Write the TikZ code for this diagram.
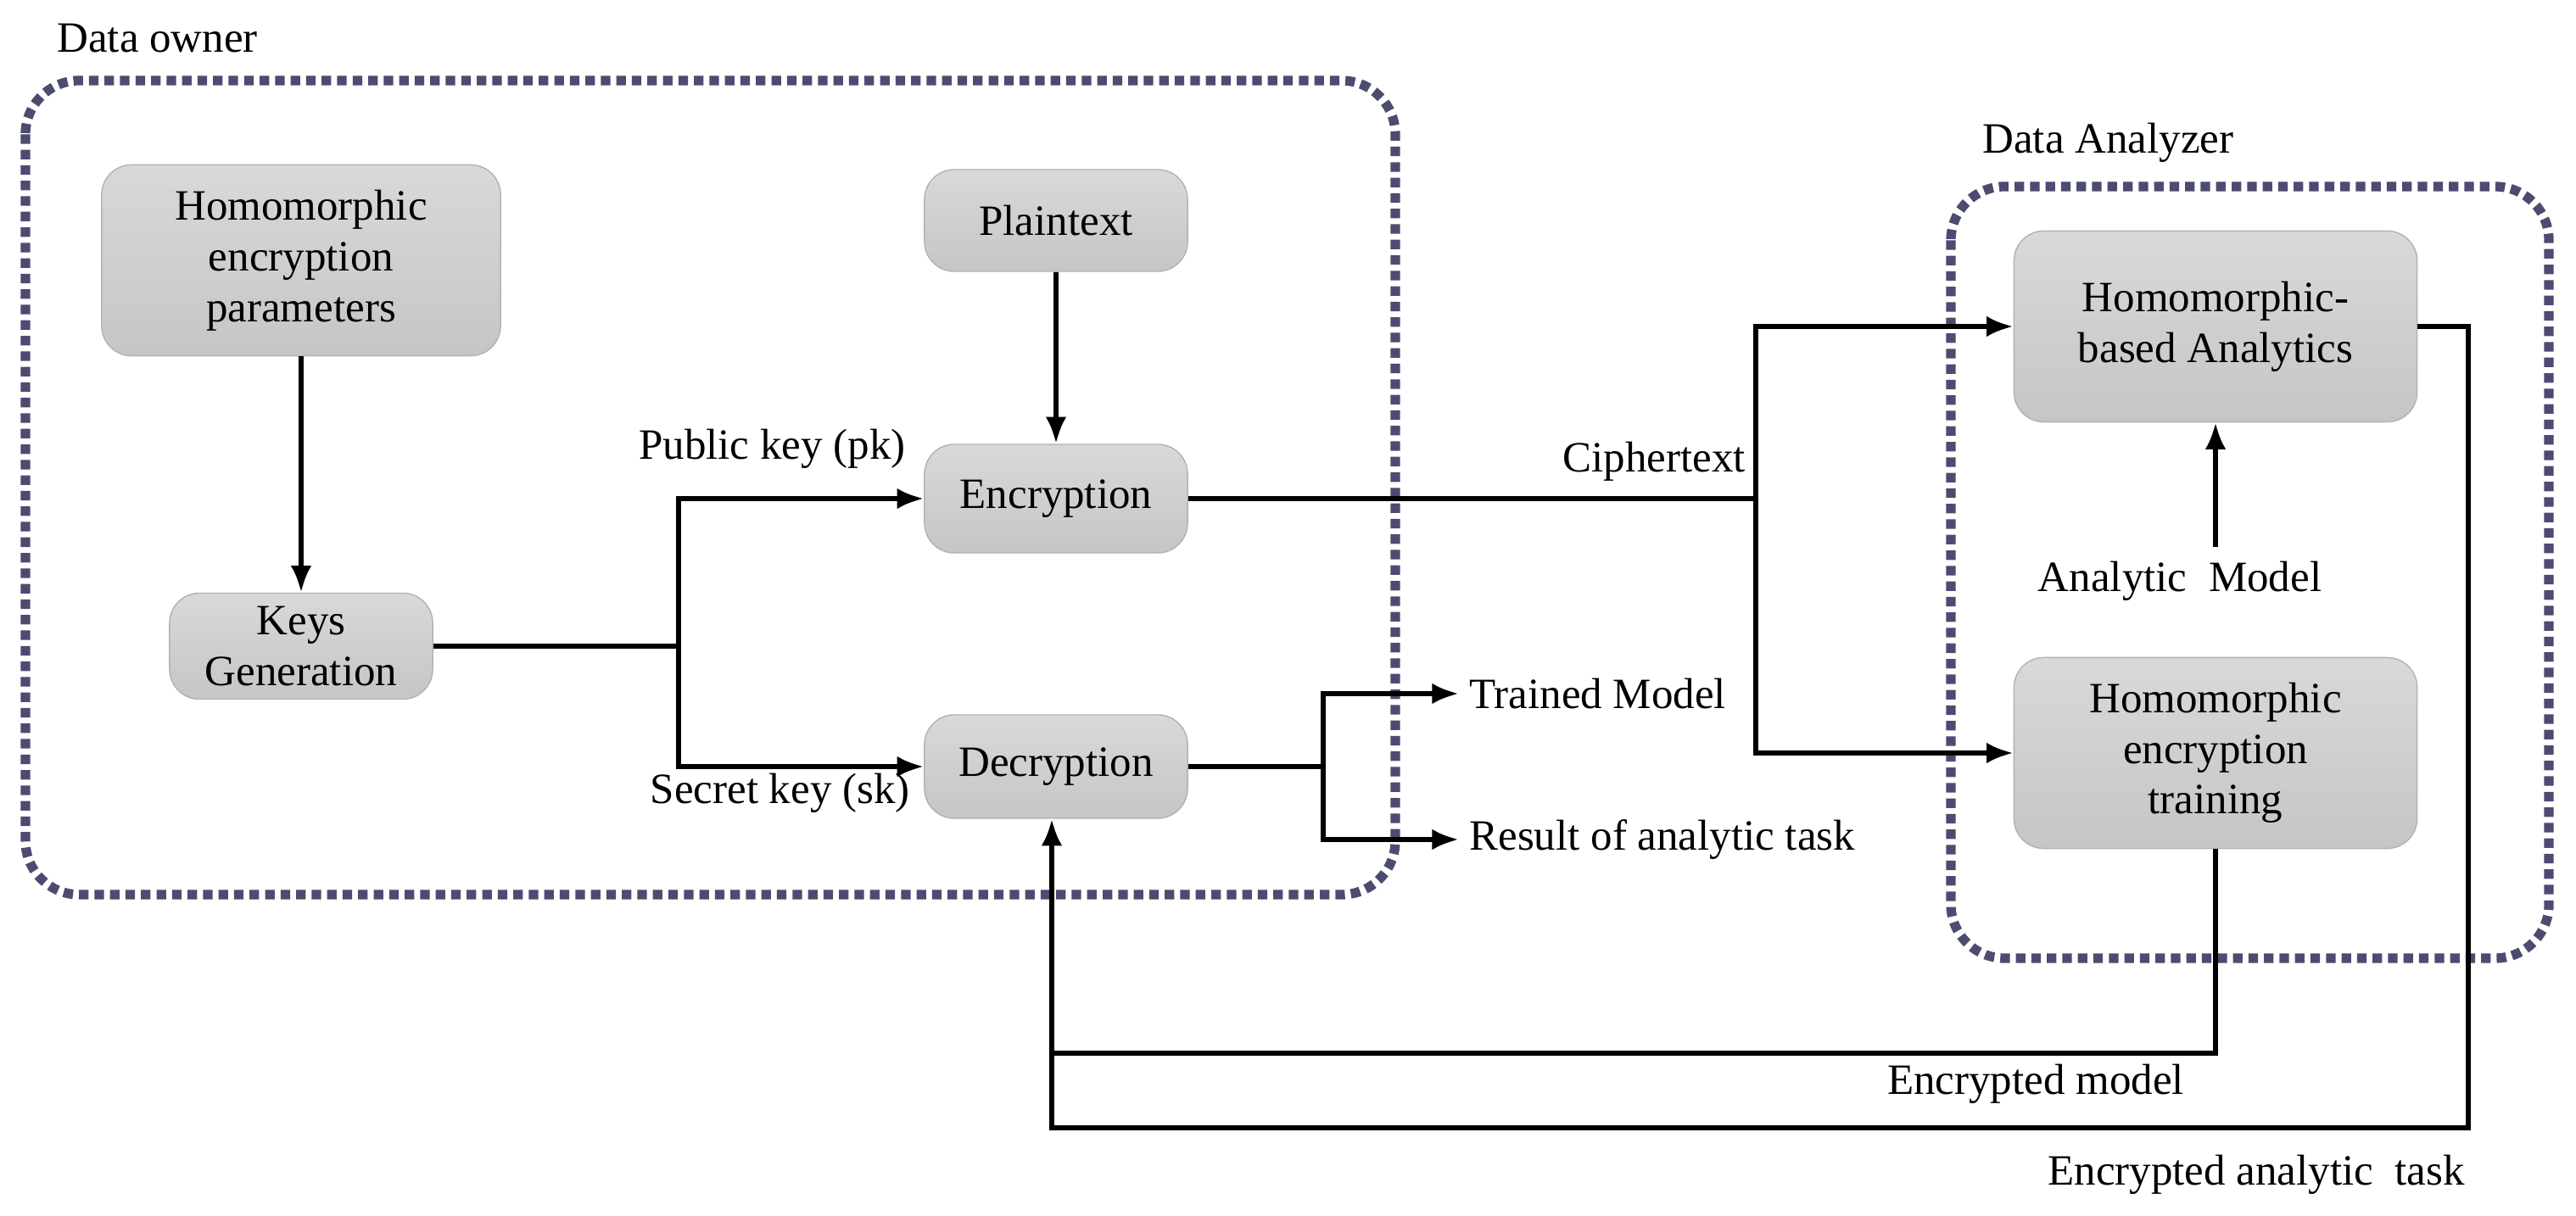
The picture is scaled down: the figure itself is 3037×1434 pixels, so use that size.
\documentclass[tikz,border=0pt]{standalone}
\usepackage{fontspec}
\setmainfont{Liberation Serif}
\usetikzlibrary{arrows.meta}
\begin{document}
\begin{tikzpicture}[x=0.01cm,y=-0.01cm,
  box/.style={draw=gray!60,rounded corners=10pt,top color=gray!30,bottom color=gray!45,align=center,inner sep=0pt},
  grp/.style={draw=black!65!blue!40!gray,line width=3.2pt,dotted,rounded corners=18pt},
  ar/.style={line width=1.6pt,-{Latex[length=9pt,width=7pt]}},
  ln/.style={line width=1.6pt}]
\useasboundingbox (0,0) rectangle (3037,1434);
\tikzset{every node/.append style={font=\fontsize{14.5}{17}\selectfont}}
\draw[grp] (30,95) rectangle (1645,1055);
\draw[grp] (2300,220) rectangle (3005,1130);
\node[anchor=west] (dol) at (55,45) {Data owner};
\node[anchor=west] (dal) at (2325,168) {Data Analyzer};
\node[box,minimum width=4.7cm,minimum height=2.25cm] (hep) at (355,307) {Homomorphic\\encryption\\parameters};
\node[box,minimum width=3.1cm,minimum height=1.2cm] (pt) at (1245,260) {Plaintext};
\node[box,minimum width=3.1cm,minimum height=1.28cm] (enc) at (1245,588) {Encryption};
\node[box,minimum width=3.1cm,minimum height=1.25cm] (kg) at (355,762) {Keys\\Generation};
\node[box,minimum width=3.1cm,minimum height=1.22cm] (dec) at (1245,904) {Decryption};
\node[box,minimum width=4.75cm,minimum height=2.25cm] (hba) at (2612,385) {Homomorphic-\\based Analytics};
\node[box,minimum width=4.75cm,minimum height=2.25cm] (het) at (2612,888) {Homomorphic\\encryption\\training};
\draw[ar] (hep) -- (kg);
\draw[ar] (pt) -- (enc);
\coordinate (j1) at (800,762);
\draw[ln] (kg) -- (j1);
\draw[ar] (j1) |- (enc);
\draw[ar] (j1) |- (dec);
\node[anchor=south east] (pk) at (1080,565) {Public key (pk)};
\node[anchor=north east] (sk) at (1085,900) {Secret key (sk)};
\coordinate (j2) at (2070,588);
\draw[ln] (enc) -- (j2);
\node[anchor=south] (ct) at (1950,580) {Ciphertext};
\draw[ar] (j2) |- (hba.west);
\draw[ar] (j2) |- (het.west);
\coordinate (j3) at (1560,904);
\draw[ln] (dec) -- (j3);
\node[anchor=west] (tm) at (1720,818) {Trained Model};
\node[anchor=west] (rt) at (1720,990) {Result of analytic task};
\draw[ar] (j3) |- (tm.west);
\draw[ar] (j3) |- (rt.west);
\node (am) at (2570,685) {Analytic\ \ Model};
\coordinate (amt) at (2612,645);
\draw[ar] (amt) -- (hba.south);
\coordinate (t1) at (2612,1242);
\coordinate (t2) at (1240,1242);
\draw[ln] (het.south) -- (t1) -- (t2);
\draw[ar] (t2) -- (dec.south -| t2);
\node (em) at (2400,1278) {Encrypted model};
\coordinate (a1) at (2910,385);
\coordinate (a2) at (2910,1330);
\coordinate (a3) at (1240,1330);
\draw[ln] (hba.east) -- (a1) -- (a2) -- (a3) -- (t2);
\node (eat) at (2660,1385) {Encrypted analytic\ \ task};
\end{tikzpicture}
\end{document}
